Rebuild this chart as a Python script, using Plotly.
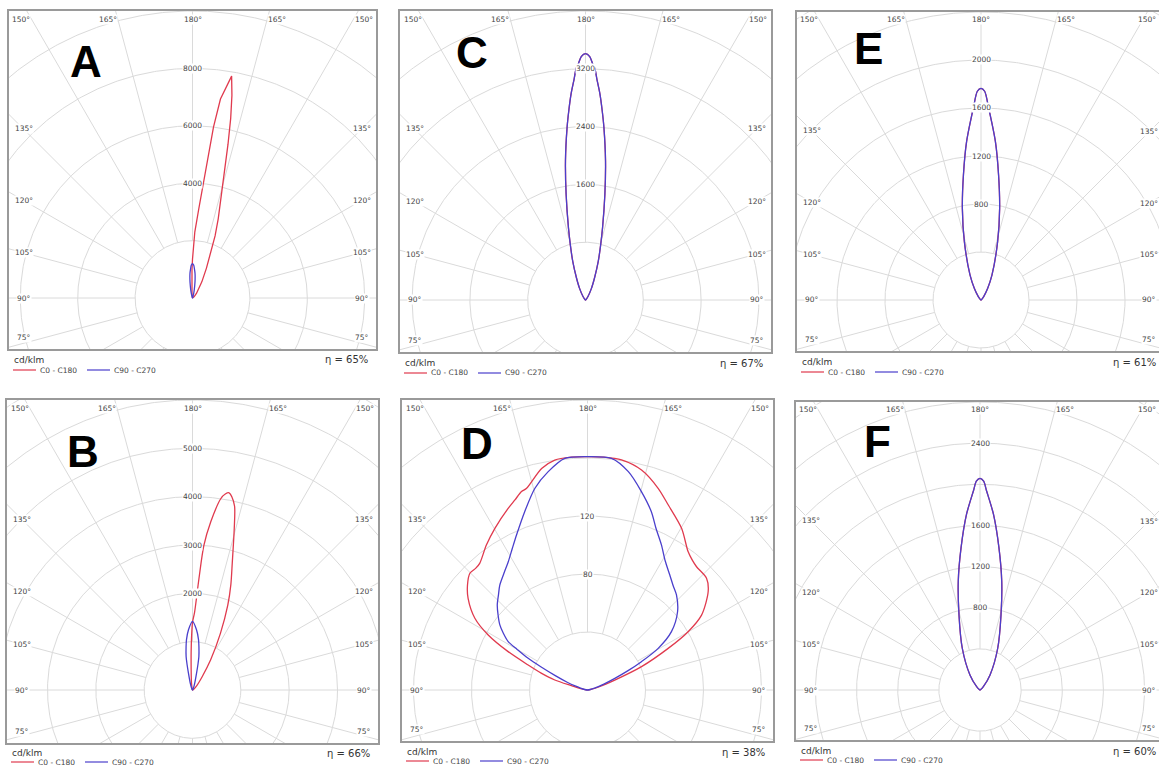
import numpy as np
import plotly.graph_objects as go

W, H = 1159, 767

# ---------------- data: luminous intensity (cd/klm) vs. signed angle from the 180° axis (deg) ----------------
# negative angles = left half of the diagram, positive = right half
A_red_deg = [-90, -40, -20, -10, -5, -2.5, -1, 0, 2, 4, 5.5, 7, 8, 10, 11, 12, 13, 14, 16, 18, 20, 22.5, 25, 30, 35, 40, 50, 60, 90]
A_red_cd = [0, 5, 20, 60, 200, 500, 1000, 1350, 2300, 3100, 4000, 6000, 7000, 7850, 7200, 6400, 5500, 4700, 3700, 2900, 2300, 1600, 1150, 650, 380, 220, 80, 30, 0]
A_blue_deg = [-90, -30, -20, -15, -12, -10, -8, -6, -4, -2, 0, 2, 4, 6, 8, 10, 12, 15, 20, 30, 90]
A_blue_cd = [0, 10, 40, 150, 300, 450, 650, 850, 1000, 1150, 1200, 1150, 1000, 850, 650, 450, 300, 150, 40, 10, 0]

B_red_deg = [-90, -30, -20, -12, -8, -5, -3, -2, -1, 0, 1.5, 3.3, 4.5, 6.2, 8.4, 9.5, 10.5, 11.5, 12.9, 14.5, 17.4, 20, 22.6, 26.3, 31, 36, 45, 60, 90]
B_red_cd = [0, 5, 20, 60, 150, 300, 550, 800, 1100, 1400, 1600, 2300, 3000, 3500, 4000, 4110, 4150, 4080, 3900, 3450, 2750, 2320, 1900, 1300, 730, 340, 120, 30, 0]
B_blue_deg = [-90, -40, -25, -18, -13.5, -12, -10.8, -8.5, -6.8, -3.8, 0, 3.8, 6.8, 8.5, 10.8, 12, 13.5, 18, 25, 40, 90]
B_blue_cd = [0, 10, 50, 150, 360, 540, 706, 900, 1050, 1250, 1420, 1250, 1050, 900, 706, 540, 360, 150, 50, 10, 0]

C_deg = [-90, -45, -35, -27, -22, -18.3, -15.5, -13.3, -10.4, -8.2, -6.1, -5, -4, -3, -2.3, -1.8, -1, 0,
         1, 1.8, 2.3, 3, 4, 5, 6.1, 8.2, 10.4, 13.3, 15.5, 18.3, 22, 27, 35, 45, 90]
C_cd = [0, 15, 60, 181, 340, 562, 780, 1025, 1485, 1944, 2400, 2640, 2860, 3050, 3210, 3260, 3370, 3410,
        3370, 3260, 3210, 3050, 2860, 2640, 2400, 1944, 1485, 1025, 780, 562, 340, 181, 60, 15, 0]

D_red_deg = [-90, -85, -80, -75, -73, -70, -67.2, -64.2, -61, -57.5, -52.5, -48.8, -45.2, -42.5, -40.4, -34.9, -29.8,
             -23.6, -20.9, -18.4, -16.8, -11.7, -8.1, -4, 0, 4, 8.4, 13.8, 19.3, 23.6, 30.2, 36, 39, 41.5, 46.8,
             50.8, 56.7, 59.9, 62.7, 66.6, 70, 75, 80, 85, 90]
D_red_cd = [0, 1, 4, 11, 23.6, 34, 44.4, 60.8, 78.3, 92.1, 103.8, 110, 114.3, 114, 114.7, 121.9, 128.5,
            136.7, 140.3, 144.2, 145.3, 156, 160.2, 161, 161, 161, 160.4, 156.2, 147.4, 139.2, 129, 118, 115, 113.5, 112.6,
            107.4, 94.1, 80.2, 62.6, 40.6, 20, 8, 3, 1, 0]
D_blue_deg = [-90, -80, -75, -72, -69, -66, -63.5, -61.9, -60, -58.6, -56, -53.4, -50, -46.7, -43, -39.9, -35.6,
              -31.7, -28, -24.6, -19.4, -14.6, -10.2, -5.6, 0, 5.9, 10.6, 15.2, 19.7, 23, 27, 31, 35.6, 39.5,
              43.1, 49, 55.2, 59.5, 62.3, 64.5, 66.9, 70, 75, 80, 90]
D_blue_cd = [0, 2, 5, 9, 15, 24, 36, 46.4, 56, 64.1, 70, 75.3, 80.5, 85.5, 90, 94.3, 99,
             104, 110.5, 117.6, 130.4, 143.8, 153, 160.5, 161, 160.6, 153.2, 141.8, 130.6, 121, 112.3, 104, 97.5, 93,
             89.8, 82.3, 70.5, 56.6, 42, 31, 20.5, 12, 5, 2, 0]

E_deg = [-90, -50, -38.7, -30, -23.7, -15.9, -11.5, -8, -5.2, -2.3, -1, 0, 1, 2.3, 5.2, 8, 11.5, 15.9, 23.7, 30, 38.7, 50, 90]
E_cd = [0, 8, 36, 110, 228, 506, 779, 1052, 1325, 1599, 1740, 1764, 1740, 1599, 1325, 1052, 779, 506, 228, 110, 36, 8, 0]

F_deg = [-90, -60, -45, -33.7, -23, -15.6, -11.3, -7.6, -4.4, -1.9, -1, 0, 1, 1.9, 4.4, 7.6, 11.3, 15.6, 23, 33.7, 45, 60, 90]
F_cd = [0, 8, 46, 176, 441, 760, 1078, 1394, 1712, 1936, 2030, 2058, 2030, 1936, 1712, 1394, 1078, 760, 441, 176, 46, 8, 0]

# circle value labels on the 180° axis
A_ticks = [4000, 6000, 8000]
B_ticks = [2000, 3000, 4000, 5000]
C_ticks = [1600, 2400, 3200]
D_ticks = [80, 120]
E_ticks = [800, 1200, 1600, 2000]
F_ticks = [800, 1200, 1600, 2400]

panel_letters = ["A", "B", "C", "D", "E", "F"]
efficiencies = ["η = 65%", "η = 66%", "η = 67%", "η = 38%", "η = 61%", "η = 60%"]
series_names = ["C0 - C180", "C90 - C270"]
angle_labels = [(-30, "150°"), (-15, "165°"), (0, "180°"), (15, "165°"), (30, "150°"),
                (-45, "135°"), (-60, "120°"), (-75, "105°"), (-90, "90°"), (-105, "75°"),
                (45, "135°"), (60, "120°"), (75, "105°"), (90, "90°"), (105, "75°")]

RED = "#e03a4e"
BLUE = "#4a3fcc"
GRID = "#dadada"
BORDER = "#9a9a9a"
TXT = "#444444"
FONT = "DejaVu Sans"

# ---------------- panel geometry (pixels) ----------------
panels = [
    dict(L=9, R=376, T=11, B=349, cx=192.5, cy=298, step=2000, ntop=5, letter=(86, 61), foot=(11, 21),
         red=(A_red_deg, A_red_cd), blue=(A_blue_deg, A_blue_cd), ticks=A_ticks, smooth=(False, True)),
    dict(L=7, R=378, T=400, B=743, cx=192.5, cy=690, step=1000, ntop=6, letter=(83, 452), foot=(10, 19),
         red=(B_red_deg, B_red_cd), blue=(B_blue_deg, B_blue_cd), ticks=B_ticks, smooth=(True, True)),
    dict(L=400, R=771, T=11, B=352, cx=585.5, cy=300, step=800, ntop=5, letter=(472, 52), foot=(11, 21),
         red=(C_deg, C_cd), blue=(C_deg, C_cd), ticks=C_ticks, smooth=(True, True)),
    dict(L=402, R=773, T=400, B=741, cx=587.5, cy=690, step=40, ntop=5, letter=(477, 444), foot=(11, 20),
         red=(D_red_deg, D_red_cd), blue=(D_blue_deg, D_blue_cd), ticks=D_ticks, smooth=(True, True)),
    dict(L=797, R=1165, T=12, B=351, cx=981, cy=300, step=400, ntop=6, letter=(868, 48), foot=(11, 21),
         red=(E_deg, E_cd), blue=(E_deg, E_cd), ticks=E_ticks, smooth=(True, True)),
    dict(L=796, R=1164, T=402, B=740, cx=980, cy=690, step=400, ntop=7, letter=(877, 441), foot=(11, 20),
         red=(F_deg, F_cd), blue=(F_deg, F_cd), ticks=F_ticks, smooth=(True, True)),
]


def px(x):
    return x / W


def py(y):
    return 1 - y / H


fig = go.Figure()
annotations = []
shapes = []
layout_axes = {}

for i, p in enumerate(panels, start=1):
    xa = "x" if i == 1 else f"x{i}"
    ya = "y" if i == 1 else f"y{i}"
    Rv = min(p["R"], W)
    spx = (p["cy"] - p["T"]) / p["ntop"]
    ppu = spx / p["step"]
    xr = [(p["L"] - p["cx"]) / ppu, (Rv - p["cx"]) / ppu]
    yr = [(p["cy"] - p["B"]) / ppu, (p["cy"] - p["T"]) / ppu]

    # grid: circles + radial lines every 15°
    corner = max(np.hypot(p["cx"] - p["L"], p["cy"] - p["T"]), np.hypot(p["R"] - p["cx"], p["B"] - p["cy"]))
    nmax = int(np.ceil(corner / spx))
    t = np.linspace(0, 2 * np.pi, 721)
    gx, gy = [], []
    for k in range(1, nmax + 1):
        r = k * p["step"]
        gx += list(r * np.cos(t)) + [None]
        gy += list(r * np.sin(t)) + [None]
    for a in range(0, 360, 15):
        ar = np.radians(a)
        gx += [p["step"] * np.cos(ar), 14 * p["step"] * np.cos(ar), None]
        gy += [p["step"] * np.sin(ar), 14 * p["step"] * np.sin(ar), None]
    fig.add_trace(go.Scatter(x=gx, y=gy, mode="lines", line=dict(color=GRID, width=1),
                             xaxis=xa, yaxis=ya, hoverinfo="skip", showlegend=False))

    # intensity curves
    for (deg, cd), col, nm, sm in ((p["red"], RED, series_names[0], p["smooth"][0]),
                                   (p["blue"], BLUE, series_names[1], p["smooth"][1])):
        th = np.radians(np.array(deg, dtype=float))
        I = np.array(cd, dtype=float)
        line = dict(color=col, width=1.3)
        if sm:
            line.update(shape="spline", smoothing=0.8)
        fig.add_trace(go.Scatter(x=I * np.sin(th), y=I * np.cos(th), mode="lines", name=nm,
                                 line=line, xaxis=xa, yaxis=ya, showlegend=False))

    common = dict(showgrid=False, zeroline=False, showticklabels=False, ticks="", fixedrange=True,
                  showline=True, linecolor=BORDER, linewidth=1.5)
    layout_axes["xaxis" if i == 1 else f"xaxis{i}"] = dict(domain=[p["L"] / W, Rv / W], range=xr, anchor=ya,
                                                          mirror=True, **common)
    layout_axes["yaxis" if i == 1 else f"yaxis{i}"] = dict(domain=[1 - p["B"] / H, 1 - p["T"] / H], range=yr,
                                                          anchor=xa, mirror=(p["R"] <= W), **common)

    # circle value labels
    for v in p["ticks"]:
        annotations.append(dict(x=0, y=v, xref=xa, yref=ya, text=str(v), showarrow=False,
                                font=dict(family=FONT, size=7.5, color=TXT), bgcolor="white", borderpad=0))

    # angle labels
    for th, txt in angle_labels:
        if abs(th) <= 30:
            ypx = p["T"] + 8
            xpx = p["cx"] + (p["cy"] - ypx) * np.tan(np.radians(th))
            xan = "center" if th == 0 else ("right" if th < 0 else "left")
            if xan == "left" and xpx + 18 > W - 1:
                xpx, xan = W - 2, "right"
        else:
            xpx = p["L"] + 14.5 if th < 0 else min(p["R"] - 14.5, W - 10)
            d = abs(p["cx"] - xpx)
            ypx = p["cy"] - d / np.tan(np.radians(abs(th)))
            ypx = min(ypx, p["B"] - 12)
            xan = "center"
        annotations.append(dict(x=px(xpx), y=py(ypx), xref="paper", yref="paper", text=txt, showarrow=False,
                                xanchor=xan, yanchor="middle", font=dict(family=FONT, size=7.5, color=TXT),
                                bgcolor="white", borderpad=0))

    # panel letter
    annotations.append(dict(x=px(p["letter"][0]), y=py(p["letter"][1]), xref="paper", yref="paper",
                            text=f"<b>{panel_letters[i - 1]}</b>", showarrow=False, xanchor="center",
                            yanchor="middle", font=dict(family="Liberation Sans, Arial", size=44, color="black")))

    # footer: unit, efficiency, legend
    L, Bt = p["L"], p["B"]
    f1, f2 = p["foot"]
    annotations.append(dict(x=px(L + 3), y=py(Bt + f1), xref="paper", yref="paper", text="cd/klm",
                            showarrow=False, xanchor="left", yanchor="middle",
                            font=dict(family=FONT, size=9, color="#333")))
    annotations.append(dict(x=px(min(p["R"] - 6, W - 1)), y=py(Bt + f1), xref="paper", yref="paper",
                            text=efficiencies[i - 1], showarrow=False, xanchor="right", yanchor="middle",
                            font=dict(family=FONT, size=10, color="#333")))
    for x0, x1, col, txt in ((L + 4, L + 27, RED, series_names[0]), (L + 78, L + 101, BLUE, series_names[1])):
        shapes.append(dict(type="line", xref="paper", yref="paper", x0=px(x0), x1=px(x1),
                           y0=py(Bt + f2), y1=py(Bt + f2), line=dict(color=col, width=1.2)))
        annotations.append(dict(x=px(x1 + 2), y=py(Bt + f2), xref="paper", yref="paper", text=txt,
                                showarrow=False, xanchor="left", yanchor="middle",
                                font=dict(family=FONT, size=7.5, color="#444")))

fig.update_layout(width=W, height=H, margin=dict(l=0, r=0, t=0, b=0), paper_bgcolor="white",
                  plot_bgcolor="white", showlegend=False, annotations=annotations, shapes=shapes,
                  **layout_axes)

fig.write_html("out.html")
